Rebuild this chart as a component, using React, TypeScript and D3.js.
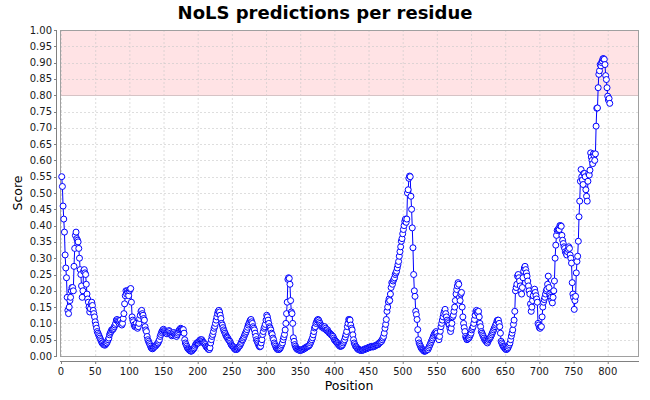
import React, { useEffect, useRef } from 'react';
import * as d3 from 'd3';

// NoLS score per residue, residues numbered from firstPosition
const firstPosition = 1;
const scores = [
  0.55, 0.52, 0.46, 0.42, 0.38, 0.31, 0.27, 0.24, 0.18, 0.14,
  0.13, 0.15, 0.17, 0.18, 0.20, 0.21, 0.21, 0.20, 0.275, 0.33,
  0.37, 0.38, 0.36, 0.355, 0.35, 0.33, 0.30, 0.265, 0.25, 0.215,
  0.18, 0.20, 0.26, 0.265, 0.255, 0.25, 0.22, 0.19, 0.175, 0.165,
  0.15, 0.135, 0.145, 0.16, 0.165, 0.155, 0.14, 0.13, 0.12, 0.105,
  0.095, 0.085, 0.075, 0.07, 0.065, 0.06, 0.055, 0.05, 0.045, 0.04,
  0.04, 0.035, 0.035, 0.033, 0.035, 0.038, 0.04, 0.045, 0.05, 0.055,
  0.065, 0.07, 0.075, 0.08, 0.08, 0.082, 0.085, 0.09, 0.095, 0.10,
  0.11, 0.112, 0.108, 0.105, 0.10, 0.105, 0.11, 0.10, 0.095, 0.10,
  0.115, 0.13, 0.16, 0.185, 0.20, 0.19, 0.20, 0.195, 0.185, 0.20,
  0.205, 0.207, 0.165, 0.12, 0.11, 0.105, 0.095, 0.09, 0.092, 0.10,
  0.09, 0.085, 0.09, 0.10, 0.115, 0.125, 0.137, 0.14, 0.13, 0.125,
  0.115, 0.11, 0.09, 0.08, 0.075, 0.06, 0.05, 0.045, 0.04, 0.035,
  0.03, 0.025, 0.023, 0.022, 0.025, 0.027, 0.03, 0.03, 0.033, 0.035,
  0.038, 0.04, 0.045, 0.05, 0.06, 0.066, 0.072, 0.076, 0.08, 0.082,
  0.078, 0.075, 0.072, 0.07, 0.068, 0.072, 0.075, 0.078, 0.075, 0.07,
  0.066, 0.062, 0.065, 0.07, 0.072, 0.068, 0.065, 0.062, 0.06, 0.065,
  0.07, 0.075, 0.08, 0.082, 0.085, 0.083, 0.08, 0.082, 0.081, 0.07,
  0.05, 0.04, 0.035, 0.03, 0.025, 0.022, 0.02, 0.018, 0.016, 0.015,
  0.015, 0.017, 0.02, 0.022, 0.025, 0.03, 0.035, 0.038, 0.04, 0.042,
  0.04, 0.045, 0.048, 0.05, 0.048, 0.05, 0.046, 0.042, 0.04, 0.038,
  0.035, 0.03, 0.027, 0.025, 0.022, 0.02, 0.02, 0.025, 0.04, 0.05,
  0.06, 0.066, 0.075, 0.085, 0.091, 0.10, 0.11, 0.12, 0.13, 0.137,
  0.14, 0.135, 0.125, 0.115, 0.10, 0.095, 0.087, 0.08, 0.075, 0.07,
  0.065, 0.06, 0.058, 0.055, 0.05, 0.048, 0.045, 0.04, 0.035, 0.032,
  0.03, 0.028, 0.025, 0.022, 0.02, 0.02, 0.02, 0.022, 0.025, 0.028,
  0.03, 0.033, 0.038, 0.042, 0.048, 0.05, 0.055, 0.06, 0.066, 0.07,
  0.075, 0.081, 0.088, 0.095, 0.10, 0.105, 0.11, 0.112, 0.105, 0.10,
  0.09, 0.085, 0.08, 0.07, 0.06, 0.05, 0.045, 0.04, 0.035, 0.03,
  0.028, 0.03, 0.04, 0.05, 0.066, 0.075, 0.085, 0.09, 0.097, 0.11,
  0.125, 0.12, 0.11, 0.10, 0.09, 0.086, 0.08, 0.07, 0.066, 0.055,
  0.05, 0.04, 0.035, 0.03, 0.025, 0.022, 0.02, 0.02, 0.02, 0.022,
  0.025, 0.03, 0.035, 0.04, 0.05, 0.058, 0.066, 0.08, 0.10, 0.13,
  0.165, 0.235, 0.24, 0.238, 0.22, 0.17, 0.135, 0.13, 0.10, 0.056,
  0.045, 0.035, 0.03, 0.025, 0.022, 0.02, 0.02, 0.018, 0.018, 0.017,
  0.018, 0.018, 0.02, 0.02, 0.022, 0.022, 0.025, 0.025, 0.027, 0.028,
  0.03, 0.03, 0.032, 0.035, 0.04, 0.045, 0.05, 0.056, 0.065, 0.075,
  0.086, 0.09, 0.10, 0.105, 0.11, 0.112, 0.11, 0.105, 0.10, 0.095,
  0.09, 0.092, 0.088, 0.085, 0.087, 0.09, 0.085, 0.08, 0.078, 0.08,
  0.075, 0.072, 0.07, 0.068, 0.066, 0.064, 0.062, 0.06, 0.055, 0.05,
  0.048, 0.045, 0.043, 0.04, 0.038, 0.035, 0.033, 0.03, 0.03, 0.03,
  0.032, 0.035, 0.04, 0.045, 0.05, 0.058, 0.066, 0.075, 0.09, 0.10,
  0.112, 0.112, 0.11, 0.095, 0.085, 0.08, 0.065, 0.05, 0.04, 0.035,
  0.03, 0.028, 0.025, 0.022, 0.02, 0.02, 0.018, 0.018, 0.017, 0.017,
  0.018, 0.018, 0.02, 0.02, 0.022, 0.022, 0.022, 0.024, 0.025, 0.025,
  0.027, 0.027, 0.028, 0.028, 0.03, 0.028, 0.028, 0.03, 0.03, 0.032,
  0.033, 0.034, 0.035, 0.035, 0.038, 0.04, 0.042, 0.045, 0.045, 0.05,
  0.055, 0.06, 0.07, 0.085, 0.097, 0.112, 0.137, 0.15, 0.166, 0.175,
  0.17, 0.19, 0.21, 0.225, 0.22, 0.23, 0.235, 0.24, 0.25, 0.255,
  0.26, 0.27, 0.28, 0.29, 0.306, 0.32, 0.335, 0.352, 0.36, 0.375,
  0.388, 0.40, 0.413, 0.42, 0.41, 0.42, 0.50, 0.51, 0.545, 0.552,
  0.55, 0.49, 0.45, 0.393, 0.332, 0.25, 0.20, 0.183, 0.137, 0.127,
  0.112, 0.081, 0.05, 0.04, 0.035, 0.03, 0.025, 0.022, 0.02, 0.018,
  0.015, 0.015, 0.015, 0.016, 0.018, 0.02, 0.02, 0.025, 0.03, 0.035,
  0.04, 0.045, 0.05, 0.055, 0.061, 0.066, 0.07, 0.072, 0.075, 0.07,
  0.06, 0.055, 0.05, 0.06, 0.076, 0.09, 0.10, 0.11, 0.12, 0.13,
  0.137, 0.143, 0.13, 0.12, 0.11, 0.105, 0.10, 0.095, 0.085, 0.075,
  0.085, 0.10, 0.12, 0.125, 0.137, 0.15, 0.17, 0.19, 0.204, 0.215,
  0.225, 0.22, 0.18, 0.17, 0.19, 0.195, 0.15, 0.12, 0.10, 0.087,
  0.075, 0.06, 0.055, 0.05, 0.052, 0.055, 0.055, 0.06, 0.065, 0.07,
  0.08, 0.085, 0.09, 0.10, 0.112, 0.125, 0.137, 0.14, 0.135, 0.13,
  0.137, 0.12, 0.10, 0.09, 0.075, 0.07, 0.065, 0.06, 0.055, 0.05,
  0.048, 0.045, 0.042, 0.04, 0.045, 0.05, 0.053, 0.056, 0.06, 0.065,
  0.07, 0.075, 0.08, 0.085, 0.09, 0.095, 0.10, 0.108, 0.11, 0.11,
  0.10, 0.09, 0.07, 0.045, 0.04, 0.035, 0.03, 0.028, 0.025, 0.022,
  0.02, 0.02, 0.022, 0.025, 0.03, 0.035, 0.04, 0.05, 0.061, 0.07,
  0.08, 0.097, 0.11, 0.137, 0.20, 0.21, 0.22, 0.245, 0.25, 0.24,
  0.23, 0.215, 0.20, 0.19, 0.21, 0.24, 0.26, 0.27, 0.275, 0.265,
  0.255, 0.245, 0.23, 0.215, 0.20, 0.19, 0.16, 0.137, 0.15, 0.17,
  0.185, 0.20, 0.205, 0.195, 0.185, 0.175, 0.165, 0.10, 0.095, 0.087,
  0.085, 0.09, 0.09, 0.12, 0.15, 0.165, 0.173, 0.18, 0.19, 0.20,
  0.205, 0.22, 0.245, 0.21, 0.19, 0.185, 0.18, 0.17, 0.163, 0.18,
  0.20, 0.23, 0.30, 0.34, 0.37, 0.385, 0.388, 0.39, 0.388, 0.40,
  0.40, 0.398, 0.37, 0.355, 0.345, 0.335, 0.33, 0.32, 0.315, 0.31,
  0.32, 0.327, 0.335, 0.33, 0.31, 0.30, 0.285, 0.225, 0.19, 0.18,
  0.143, 0.17, 0.183, 0.255, 0.29, 0.306, 0.352, 0.427, 0.475, 0.536,
  0.572, 0.55, 0.54, 0.526, 0.56, 0.56, 0.55, 0.51, 0.49, 0.475,
  0.536, 0.56, 0.555, 0.57, 0.623, 0.61, 0.60, 0.59, 0.62, 0.615,
  0.60, 0.62, 0.705, 0.76, 0.761, 0.823, 0.864, 0.875, 0.894, 0.89,
  0.90, 0.905, 0.912, 0.912, 0.91, 0.894, 0.86, 0.848, 0.823, 0.797,
  0.785, 0.79, 0.775,
];

const xTicks = [0, 50, 100, 150, 200, 250, 300, 350, 400, 450, 500, 550, 600, 650, 700, 750, 800];
const yTicks = [0, 0.05, 0.1, 0.15, 0.2, 0.25, 0.3, 0.35, 0.4, 0.45, 0.5, 0.55, 0.6, 0.65, 0.7, 0.75, 0.8, 0.85, 0.9, 0.95, 1.0];
const thresholdBand = [0.8, 1.0];

const title = 'NoLS predictions per residue';
const xLabel = 'Position';
const yLabel = 'Score';

const App: React.FC = () => {
    const ref = useRef<HTMLDivElement>(null);

    const W = 650;
    const H = 400;
    const plot = { left: 60, right: 638, top: 30, bottom: 356 };
    const font = '"DejaVu Sans", Verdana, sans-serif';

    useEffect(() => {
        const root = d3.select(ref.current);
        root.select('svg').remove();

        const svg = root.append('svg')
            .attr('width', W)
            .attr('height', H)
            .style('display', 'block')
            .style('font-family', font);

        svg.append('rect').attr('width', W).attr('height', H).attr('fill', '#ffffff');

        const x = d3.scaleLinear().domain([-1.5, 844.3]).range([plot.left, plot.right]);
        const y = d3.scaleLinear().domain([0, 1]).range([plot.bottom, plot.top]);

        const data = scores.map((s, i) => ({ pos: firstPosition + i, score: s }));

        // threshold band
        svg.append('rect')
            .attr('x', plot.left)
            .attr('y', y(thresholdBand[1]))
            .attr('width', plot.right - plot.left)
            .attr('height', y(thresholdBand[0]) - y(thresholdBand[1]))
            .attr('fill', '#ffe3e5');

        // grid
        const grid = svg.append('g')
            .attr('stroke', '#c8c8c8')
            .attr('stroke-width', 0.6)
            .attr('stroke-dasharray', '2,2');
        grid.selectAll('line.v').data(xTicks).enter().append('line')
            .attr('x1', d => x(d) + 0.5).attr('x2', d => x(d) + 0.5)
            .attr('y1', plot.top).attr('y2', plot.bottom);
        grid.selectAll('line.h').data(yTicks).enter().append('line')
            .attr('x1', plot.left).attr('x2', plot.right)
            .attr('y1', d => Math.round(y(d)) + 0.5).attr('y2', d => Math.round(y(d)) + 0.5);

        svg.append('line')
            .attr('x1', plot.left).attr('x2', plot.right)
            .attr('y1', Math.round(y(thresholdBand[0])) + 0.5)
            .attr('y2', Math.round(y(thresholdBand[0])) + 0.5)
            .attr('stroke', '#d6c3c5').attr('stroke-width', 1);

        // plot outline
        svg.append('rect')
            .attr('x', plot.left + 0.5).attr('y', plot.top + 0.5)
            .attr('width', plot.right - plot.left).attr('height', plot.bottom - plot.top)
            .attr('fill', 'none').attr('stroke', '#a0a0a0');

        // series
        const line = d3.line<{ pos: number, score: number }>()
            .x(d => x(d.pos))
            .y(d => y(d.score));
        svg.append('path')
            .datum(data)
            .attr('d', line)
            .attr('fill', 'none')
            .attr('stroke', '#0000ff')
            .attr('stroke-width', 1);
        svg.append('g').selectAll('circle').data(data).enter().append('circle')
            .attr('cx', d => x(d.pos))
            .attr('cy', d => y(d.score))
            .attr('r', 3)
            .attr('fill', '#ffffff')
            .attr('stroke', '#0000ff')
            .attr('stroke-width', 1);

        // x axis
        const xAxisY = 361;
        const xAxis = svg.append('g').attr('transform', `translate(0,${xAxisY})`);
        xAxis.append('line')
            .attr('x1', plot.left).attr('x2', plot.right + 1)
            .attr('y1', 0.5).attr('y2', 0.5)
            .attr('stroke', '#808080');
        xAxis.selectAll('line.t').data(xTicks).enter().append('line')
            .attr('x1', d => x(d) + 0.5).attr('x2', d => x(d) + 0.5)
            .attr('y1', 0).attr('y2', 3)
            .attr('stroke', '#808080');
        xAxis.selectAll('text').data(xTicks).enter().append('text')
            .attr('x', d => x(d))
            .attr('y', 13.5)
            .attr('text-anchor', 'middle')
            .attr('font-size', 10)
            .attr('fill', '#1a1a1a')
            .text(d => String(d));

        // y axis
        const yAxisX = 57;
        const yAxis = svg.append('g').attr('transform', `translate(${yAxisX},0)`);
        yAxis.append('line')
            .attr('x1', -0.5).attr('x2', -0.5)
            .attr('y1', plot.top).attr('y2', plot.bottom + 1)
            .attr('stroke', '#808080');
        yAxis.selectAll('line.t').data(yTicks).enter().append('line')
            .attr('x1', -3).attr('x2', 0)
            .attr('y1', d => Math.round(y(d)) + 0.5).attr('y2', d => Math.round(y(d)) + 0.5)
            .attr('stroke', '#808080');
        yAxis.selectAll('text').data(yTicks).enter().append('text')
            .attr('x', -5)
            .attr('y', d => y(d) + 3.5)
            .attr('text-anchor', 'end')
            .attr('font-size', 10)
            .attr('fill', '#1a1a1a')
            .text(d => d3.format('.2f')(d));

        // labels
        svg.append('text')
            .attr('x', (plot.left + plot.right) / 2)
            .attr('y', 390)
            .attr('text-anchor', 'middle')
            .attr('font-size', 12.5)
            .attr('fill', '#000000')
            .text(xLabel);
        svg.append('text')
            .attr('transform', `translate(22,${(plot.top + plot.bottom) / 2}) rotate(-90)`)
            .attr('text-anchor', 'middle')
            .attr('font-size', 12.5)
            .attr('fill', '#000000')
            .text(yLabel);
        svg.append('text')
            .attr('x', W / 2)
            .attr('y', 19)
            .attr('text-anchor', 'middle')
            .attr('font-size', 18)
            .attr('font-weight', 'bold')
            .attr('fill', '#000000')
            .text(title);
    }, []);

    return <div ref={ref} style={{ position: 'absolute', left: 0, top: 0 }} />;
};

export default App;
